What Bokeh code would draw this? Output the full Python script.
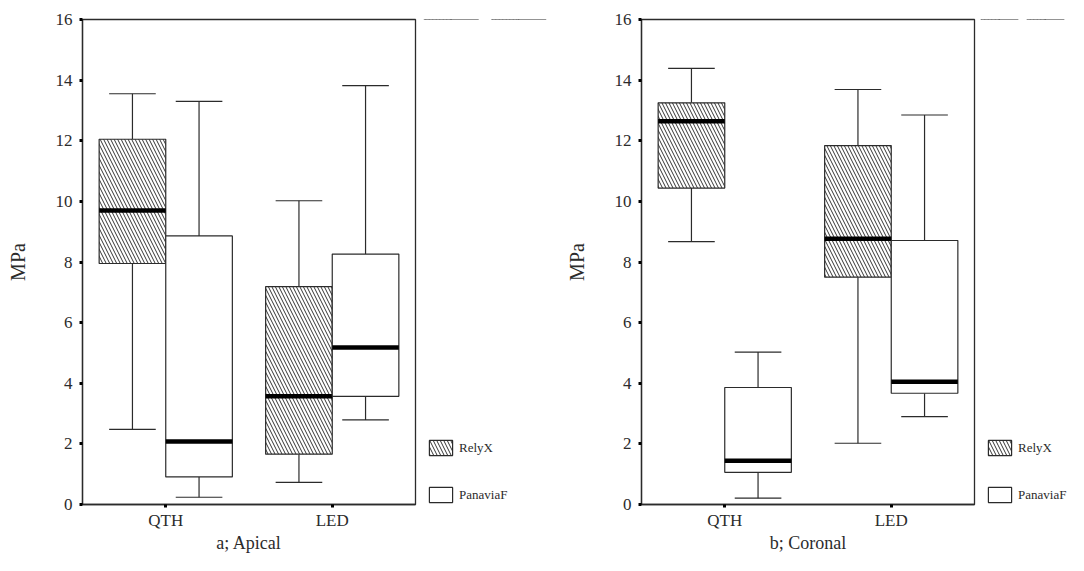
from bokeh.plotting import figure
from bokeh.layouts import row
from bokeh.models import (ColumnDataSource, FactorRange, Range1d, Legend, LegendItem,
                          FixedTicker)
from bokeh.transform import dodge
from bokeh.embed import file_html
from bokeh.resources import INLINE

methods = ["QTH", "LED"]
series_names = ["RelyX", "PanaviaF"]
y_ticks = [0, 2, 4, 6, 8, 10, 12, 14, 16]

# a; Apical
apical_relyx_lower = [2.48, 0.73]
apical_relyx_q1 = [7.95, 1.66]
apical_relyx_median = [9.70, 3.57]
apical_relyx_q3 = [12.05, 7.19]
apical_relyx_upper = [13.55, 10.02]

apical_panavia_lower = [0.24, 2.79]
apical_panavia_q1 = [0.91, 3.57]
apical_panavia_median = [2.08, 5.18]
apical_panavia_q3 = [8.86, 8.26]
apical_panavia_upper = [13.30, 13.82]

# b; Coronal
coronal_relyx_lower = [8.67, 2.02]
coronal_relyx_q1 = [10.44, 7.50]
coronal_relyx_median = [12.64, 8.77]
coronal_relyx_q3 = [13.25, 11.84]
coronal_relyx_upper = [14.39, 13.69]

coronal_panavia_lower = [0.21, 2.90]
coronal_panavia_q1 = [1.06, 3.67]
coronal_panavia_median = [1.44, 4.05]
coronal_panavia_q3 = [3.86, 8.71]
coronal_panavia_upper = [5.03, 12.85]

FONT = "Liberation Serif"
INK = "#2b2b2b"
HEIGHT = 555
STYLES = [("\\", -0.2), (" ", 0.2)]


def box_source(d):
    return ColumnDataSource(dict(method=methods, lower=d[0], q1=d[1], median=d[2],
                                 q3=d[3], upper=d[4]))


def panel(title, relyx, panavia, width, bl):
    p = figure(x_range=FactorRange(*methods), y_range=Range1d(0, 16),
               width=width, height=HEIGHT, output_backend="svg", toolbar_location=None,
               min_border_left=bl, min_border_right=2, min_border_top=19,
               min_border_bottom=45)
    p.xgrid.grid_line_color = None
    p.ygrid.grid_line_color = None
    p.outline_line_color = INK
    p.outline_line_width = 1.3
    p.background_fill_color = "white"
    p.border_fill_color = "white"

    for d, (hatch, off) in zip([relyx, panavia], STYLES):
        src = box_source(d)
        xc = dodge("method", off, range=p.x_range)
        xl = dodge("method", off - 0.2, range=p.x_range)
        xr = dodge("method", off + 0.2, range=p.x_range)
        cl = dodge("method", off - 0.14, range=p.x_range)
        cr = dodge("method", off + 0.14, range=p.x_range)
        p.segment(x0=xc, x1=xc, y0="q3", y1="upper", source=src, line_color=INK, line_width=1.2)
        p.segment(x0=xc, x1=xc, y0="lower", y1="q1", source=src, line_color=INK, line_width=1.2)
        p.segment(x0=cl, x1=cr, y0="upper", y1="upper", source=src, line_color=INK, line_width=1.2)
        p.segment(x0=cl, x1=cr, y0="lower", y1="lower", source=src, line_color=INK, line_width=1.2)
        p.vbar(x=xc, width=0.4, bottom="q1", top="q3", source=src,
               fill_color="white", line_color=INK, line_width=1.2,
               hatch_pattern=hatch, hatch_color="#333333", hatch_scale=7, hatch_weight=1)
        p.segment(x0=xl, x1=xr, y0="median", y1="median", source=src,
                  line_color="black", line_width=4.5)

    for ax in (p.xaxis[0], p.yaxis[0]):
        ax.axis_line_color = INK
        ax.axis_line_width = 1.3
        ax.major_tick_in = 0
        ax.major_tick_out = 3
        ax.major_tick_line_width = 3
        ax.major_tick_line_color = "black"
        ax.minor_tick_line_color = None
        ax.major_label_text_font = FONT
        ax.major_label_text_color = INK
        ax.axis_label_text_font = FONT
        ax.axis_label_text_font_style = "normal"
        ax.axis_label_text_color = INK
    p.yaxis.ticker = FixedTicker(ticks=y_ticks)
    p.yaxis.major_label_text_font_size = "17px"
    p.yaxis.major_label_standoff = 7
    p.yaxis.axis_label = "MPa"
    p.yaxis.axis_label_text_font_size = "20px"
    p.yaxis.axis_label_standoff = 24
    p.xaxis.major_label_text_font_size = "17px"
    p.xaxis.major_label_standoff = 3
    p.xaxis.axis_label = title
    p.xaxis.axis_label_text_font_size = "18px"
    p.xaxis.axis_label_standoff = 0
    return p


def legend_fig(width, relyx, panavia):
    # legend-only strip: the series' boxes are drawn outside its visible y range,
    # so only the legend entries show
    q = figure(width=width, height=HEIGHT, x_range=FactorRange(*methods),
               y_range=Range1d(-3, -2), x_axis_type=None, y_axis_type=None,
               output_backend="svg", toolbar_location=None, min_border=0,
               outline_line_color=None)
    q.xgrid.grid_line_color = None
    q.ygrid.grid_line_color = None
    items = []
    for name, d, (hatch, off) in zip(series_names, [relyx, panavia], STYLES):
        src = box_source(d)
        r = q.vbar(x=dodge("method", off, range=q.x_range), top="q3", bottom="q1",
                   width=0.4, source=src,
                   fill_color="white", line_color=INK, line_width=1.2,
                   hatch_pattern=hatch, hatch_color="#333333", hatch_scale=7,
                   hatch_weight=1)
        items.append(LegendItem(label=name, renderers=[r]))
    legend = Legend(items=items, location=(9, 0), orientation="vertical",
                    glyph_width=29, glyph_height=19, spacing=28, padding=0, margin=0,
                    label_standoff=4, label_text_font=FONT, label_text_font_size="13px",
                    label_text_color=INK, border_line_color=None,
                    background_fill_alpha=0)
    q.add_layout(legend, "center")
    return q


apical_relyx = [apical_relyx_lower, apical_relyx_q1, apical_relyx_median, apical_relyx_q3, apical_relyx_upper]
apical_panavia = [apical_panavia_lower, apical_panavia_q1, apical_panavia_median, apical_panavia_q3, apical_panavia_upper]
coronal_relyx = [coronal_relyx_lower, coronal_relyx_q1, coronal_relyx_median, coronal_relyx_q3, coronal_relyx_upper]
coronal_panavia = [coronal_panavia_lower, coronal_panavia_q1, coronal_panavia_median, coronal_panavia_q3, coronal_panavia_upper]

p1 = panel("a; Apical", apical_relyx, apical_panavia, 417, 82)
l1 = legend_fig(135, apical_relyx, apical_panavia)
p2 = panel("b; Coronal", coronal_relyx, coronal_panavia, 424, 89)
l2 = legend_fig(92, coronal_relyx, coronal_panavia)

layout = row(p1, l1, p2, l2, spacing=0)
open("out.html", "w").write(file_html(layout, INLINE))
